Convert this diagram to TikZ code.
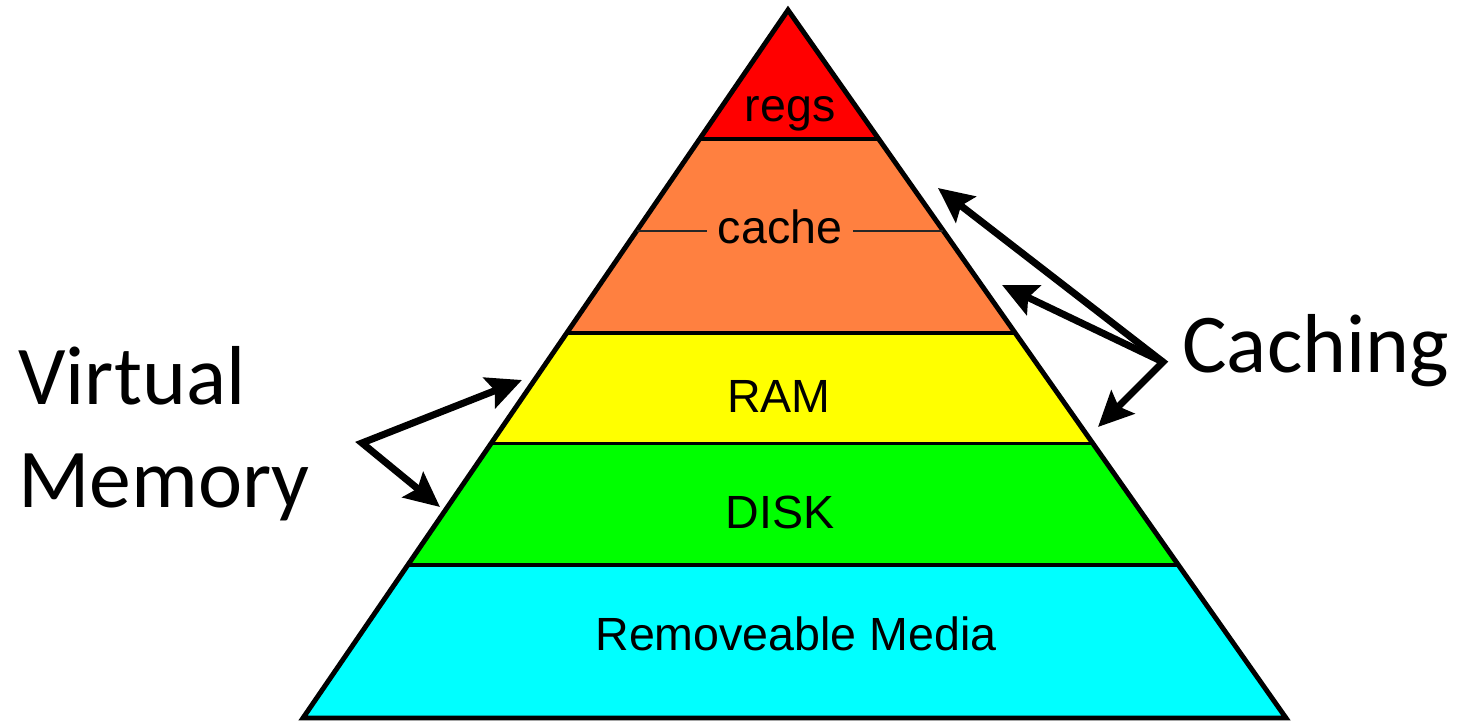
\documentclass[tikz,border=0pt]{standalone}
\usepackage{fontspec}
\setmainfont{Liberation Sans}
\newfontfamily\labelfont{Carlito}
\usetikzlibrary{calc,arrows.meta}

\definecolor{regsred}{RGB}{255,0,0}
\definecolor{cacheorange}{RGB}{255,128,64}
\definecolor{ramyellow}{RGB}{255,255,0}
\definecolor{diskgreen}{RGB}{0,255,0}
\definecolor{mediacyan}{RGB}{0,255,255}

\begin{document}
\begin{tikzpicture}[
        % 箭頭樣式
        >={Stealth[length=0.7cm,width=0.65cm,inset=0.12cm]},
        % 金字塔內文字
        layer_text/.style={
            font=\fontsize{26.5}{30}\selectfont,
            anchor=base,
            inner sep=0pt
        },
        % 兩側大字
        side_label/.style={
            font=\labelfont\fontsize{47.6}{57}\selectfont,
            anchor=base west,
            inner sep=0pt
        },
        % 外框:粗線
        side_edge/.style={
            draw=black,
            line width=2.8pt
        },
        % 層與層之間的分隔線
        layer_edge/.style={
            draw=black,
            line width=2pt
        },
        % cache 中間的細線
        cache_line/.style={
            draw=black!85,
            line width=1pt
        },
        % 指示箭頭
        pointer/.style={
            draw=black,
            line width=4pt
        }
    ]
        \useasboundingbox (0,0) rectangle (29.2,14.48);

        % ==========================
        % 金字塔
        % ==========================
        % 1. 頂點與底邊
        \coordinate (apex) at (15.76,14.28);
        \coordinate (bl) at (6.06,0.12);
        \coordinate (br) at (25.72,0.12);

        % 2. 兩側分層點 (由上往下)
        \foreach \n/\t in {1/0.182, 2/0.456, 3/0.612, 4/0.784, 5/1} {
            \coordinate (L\n) at ($(apex)!\t!(bl)$);
            \coordinate (R\n) at ($(apex)!\t!(br)$);
        }
        \coordinate (cL) at ($(apex)!0.312!(bl)$);
        \coordinate (cR) at ($(apex)!0.312!(br)$);

        % 3. 填色
        \fill[regsred] (apex) -- (R1) -- (L1) -- cycle;
        \foreach \a/\b/\c in {1/2/cacheorange, 2/3/ramyellow, 3/4/diskgreen, 4/5/mediacyan} {
            \fill[\c] (L\a) -- (R\a) -- (R\b) -- (L\b) -- cycle;
        }

        % 4. 分隔線與外框
        \foreach \n in {1,...,4} {
            \draw[layer_edge] (L\n) -- (R\n);
        }
        \draw[side_edge] (apex) -- (L5) -- (R5) -- cycle;

        % 5. 各層文字
        \node[layer_text] (regs) at (15.80,12.04) {regs};
        \node[layer_text, inner xsep=0.22cm] (cache) at (15.60,9.60) {cache};
        \node[layer_text] (ram) at (15.58,6.24) {RAM};
        \node[layer_text] (disk) at (15.60,3.92) {DISK};
        \node[layer_text] (media) at (15.92,1.48) {Removeable Media};

        \draw[cache_line] (cL) -- (cL -| cache.west);
        \draw[cache_line] (cR -| cache.east) -- (cR);

        % ==========================
        % 左側:Virtual Memory
        % ==========================
        \node[side_label] (virtual) at (0.36,6.38) {Virtual};
        \node[side_label] (memory) at (0.36,4.34) {Memory};

        \coordinate (vm_tip) at (7.24,5.62);
        \coordinate (vm_ram) at (10.44,6.88);
        \coordinate (vm_disk) at (8.80,4.34);
        \draw[pointer, <->] (vm_ram) -- (vm_tip) -- (vm_disk);

        % ==========================
        % 右側:Caching
        % ==========================
        \node[side_label] (caching) at (23.64,7.04) {Caching};

        \coordinate (ca_tip) at (23.26,7.24);
        \coordinate (ca_cache_hi) at (18.76,10.72);
        \coordinate (ca_cache_lo) at (20.04,8.78);
        \coordinate (ca_ram) at (21.96,5.94);
        \draw[pointer, <->] (ca_cache_hi) -- (ca_tip) -- (ca_ram);
        \draw[pointer, ->] (ca_tip) -- (ca_cache_lo);

    \end{tikzpicture}
\end{document}
